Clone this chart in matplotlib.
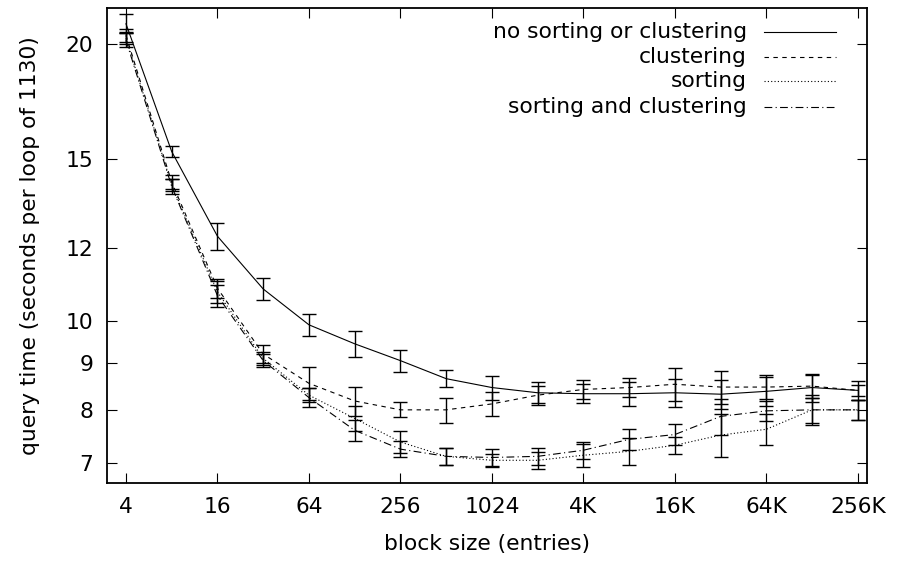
import matplotlib
matplotlib.use('Agg')

from matplotlib import pyplot as plt
from matplotlib.ticker import FixedLocator, NullLocator, NullFormatter

plt.rcParams['font.family'] = 'DejaVu Sans'

# block sizes 4 .. 256K (powers of two)
block_size = [4, 8, 16, 32, 64, 128, 256, 512, 1024, 2048, 4096,
              8192, 16384, 32768, 65536, 131072, 262144]

# mean query time, seconds per loop of 1130
no_sort_no_clust = [21.05, 15.28, 12.36, 10.83, 9.90, 9.44, 9.05, 8.65, 8.46,
                    8.35, 8.33, 8.33, 8.35, 8.32, 8.38, 8.46, 8.40]
clustering = [20.45, 14.15, 10.85, 9.20, 8.55, 8.18, 8.00, 8.00, 8.12,
              8.30, 8.42, 8.46, 8.53, 8.47, 8.47, 8.49, 8.40]
sorting = [20.30, 14.05, 10.75, 9.10, 8.30, 7.83, 7.38, 7.12, 7.05,
           7.05, 7.14, 7.21, 7.32, 7.51, 7.62, 8.00, 8.00]
sort_and_clust = [20.20, 14.00, 10.65, 9.05, 8.25, 7.60, 7.25, 7.12, 7.10,
                  7.12, 7.23, 7.43, 7.52, 7.87, 7.98, 8.00, 8.00]

# error bar half widths
no_sort_no_clust_err = [0.50, 0.20, 0.43, 0.30, 0.28, 0.30, 0.25, 0.18, 0.25,
                        0.22, 0.20, 0.25, 0.30, 0.30, 0.30, 0.30, 0.20]
clustering_err = [0.35, 0.25, 0.25, 0.20, 0.35, 0.30, 0.15, 0.25, 0.25,
                  0.20, 0.20, 0.20, 0.35, 0.35, 0.25, 0.25, 0.12]
sorting_err = [0.30, 0.20, 0.30, 0.15, 0.15, 0.25, 0.20, 0.15, 0.12,
               0.15, 0.20, 0.25, 0.15, 0.40, 0.30, 0.30, 0.20]
sort_and_clust_err = [0.35, 0.25, 0.30, 0.15, 0.20, 0.20, 0.15, 0.15, 0.15,
                      0.15, 0.15, 0.20, 0.20, 0.35, 0.20, 0.25, 0.20]

labels = ["no sorting or clustering", "clustering", "sorting",
          "sorting and clustering"]
x_ticks = [4, 16, 64, 256, 1024, 4096, 16384, 65536, 262144]
x_ticklabels = ["4", "16", "64", "256", "1024", "4K", "16K", "64K", "256K"]
y_ticks = [7, 8, 9, 10, 12, 15, 20]

series = [no_sort_no_clust, clustering, sorting, sort_and_clust]
errors = [no_sort_no_clust_err, clustering_err, sorting_err, sort_and_clust_err]
styles = ['-', (0, (4, 4)), (0, (1, 2)), (0, (7, 3, 1, 3))]

fs = 15.7
lw = 0.8

fig = plt.figure(figsize=(8.97, 5.64), dpi=100)
ax = fig.add_axes([107/897, 1 - 483/564, 760/897, 475/564])

for vals, err, ls in zip(series, errors, styles):
    ax.plot(block_size, vals, color='black', lw=lw, linestyle=ls)
    ax.errorbar(block_size, vals, yerr=err, fmt='none', ecolor='black',
                elinewidth=1.0, capsize=4.7, capthick=1.0)

ax.set_xscale('log', base=2)
ax.set_yscale('log')
ax.set_xlim(3, 2**18.2)
ax.set_ylim(6.66, 21.9)

ax.xaxis.set_major_locator(FixedLocator(x_ticks))
ax.set_xticklabels(x_ticklabels)
ax.xaxis.set_minor_locator(NullLocator())
ax.yaxis.set_major_locator(FixedLocator(y_ticks))
ax.set_yticklabels([str(v) for v in y_ticks])
ax.yaxis.set_minor_locator(NullLocator())
ax.yaxis.set_minor_formatter(NullFormatter())

ax.tick_params(direction='in', top=True, right=True, length=7, width=0.8,
               labelsize=fs)
ax.tick_params(axis='y', pad=10)
ax.tick_params(axis='x', pad=10)
for s in ax.spines.values():
    s.set_linewidth(1.3)

ax.set_xlabel("block size (entries)", fontsize=fs, labelpad=12)
ax.set_ylabel("query time (seconds per loop of 1130)", fontsize=fs,
              labelpad=18)

# legend drawn by hand, gnuplot style (text right aligned, sample on the right)
rows = [0.949, 0.897, 0.846, 0.792]
for lab, ls, yy in zip(labels, styles, rows):
    ax.text(0.842, yy, lab, transform=ax.transAxes, ha='right', va='center',
            fontsize=fs)
    ax.plot([0.864, 0.959], [yy, yy], transform=ax.transAxes, color='black',
            lw=lw, linestyle=ls)

fig.savefig('out.png', dpi=100)
